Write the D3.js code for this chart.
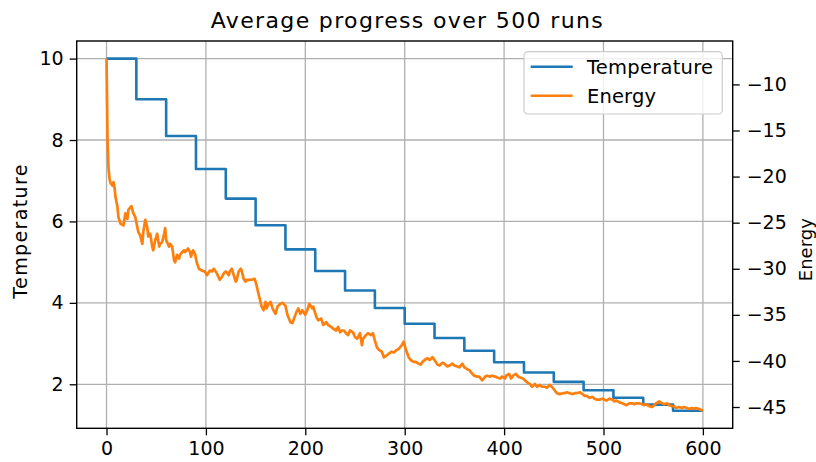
<!DOCTYPE html>
<html>
<head>
<meta charset="utf-8">
<script src="https://cdn.jsdelivr.net/npm/d3@7"></script>
<style>
  html, body { margin: 0; padding: 0; background: #fff; }
  svg { display: block; font-family: "DejaVu Sans", sans-serif; }
</style>
</head>
<body>
<svg id="chart" width="816" height="462"></svg>
<script>
// Annealing schedule: temperature held for 30 steps, then cooled.
const tempStepStarts = [0, 30, 60, 90, 120, 150, 180, 210, 240, 270, 300, 330, 360, 390, 420, 450, 480, 510, 540, 570];
const temperature = [10, 9, 8.1, 7.29, 6.561, 5.905, 5.314, 4.783, 4.305, 3.874, 3.487, 3.138, 2.824, 2.542, 2.288, 2.059, 1.853, 1.668, 1.501, 1.351];
const lastStep = 600;

// Mean energy per step: [step, energy]
const energyReadings = [
  [0,-7.2],[1,-16.0],[2,-19.1],[3,-20.2],[4,-20.7],[6,-21.0],[7,-20.6],[8,-21.1],[9,-22.2],[11,-23.3],
  [12,-24.4],[14,-25.1],[17,-25.3],[19,-24.0],[21,-24.6],[22,-23.6],[25,-23.2],[27,-24.0],[29,-24.4],[31,-25.5],
  [32,-26.0],[34,-26.4],[36,-27.3],[37,-26.0],[39,-24.7],[41,-25.5],[42,-26.5],[44,-26.2],[46,-27.6],[47,-28.0],
  [49,-26.9],[51,-26.2],[53,-27.6],[54,-27.3],[56,-27.1],[58,-26.2],[59,-25.6],[60,-26.9],[63,-27.6],[64,-27.3],
  [66,-27.6],[68,-29.1],[69,-29.3],[71,-28.5],[73,-28.9],[74,-28.5],[76,-28.2],[78,-28.0],[79,-28.2],[82,-27.8],
  [84,-28.2],[85,-28.7],[87,-28.0],[89,-28.4],[91,-29.4],[93,-30.0],[96,-30.2],[99,-30.3],[101,-30.7],[104,-30.2],
  [106,-30.3],[108,-30.0],[111,-30.5],[114,-31.2],[116,-30.9],[118,-30.5],[120,-30.3],[123,-30.7],[124,-30.3],[126,-30.0],
  [128,-30.7],[130,-31.4],[131,-31.2],[133,-30.3],[135,-30.0],[136,-30.2],[138,-31.1],[140,-31.4],[141,-31.2],[144,-31.2],
  [146,-31.2],[149,-31.1],[151,-31.8],[152,-32.3],[154,-33.2],[156,-34.1],[158,-34.5],[160,-33.6],[161,-34.3],[163,-33.8],
  [165,-33.6],[167,-34.3],[170,-34.9],[172,-34.1],[175,-33.8],[177,-33.7],[180,-34.0],[182,-35.0],[185,-35.8],[187,-35.9],
  [190,-35.0],[191,-34.7],[193,-34.3],[195,-34.9],[197,-34.5],[200,-35.0],[202,-34.5],[204,-33.8],[207,-34.3],[208,-34.1],
  [211,-35.2],[213,-35.6],[216,-35.4],[218,-36.1],[221,-35.8],[223,-36.1],[226,-36.3],[228,-36.5],[231,-36.7],[233,-36.3],
  [235,-36.9],[237,-36.7],[239,-36.7],[241,-37.0],[243,-37.2],[245,-36.7],[248,-36.9],[250,-37.4],[252,-37.6],[255,-37.0],
  [257,-38.3],[258,-37.6],[261,-37.2],[263,-37.0],[266,-37.2],[268,-37.0],[270,-37.8],[272,-38.5],[274,-38.8],[277,-39.0],
  [279,-39.6],[282,-39.4],[284,-39.2],[287,-39.0],[289,-39.1],[292,-38.8],[294,-38.7],[297,-38.3],[299,-37.9],[301,-38.7],
  [304,-39.6],[306,-39.9],[309,-40.1],[311,-40.1],[314,-40.3],[316,-40.4],[318,-40.1],[320,-39.9],[323,-39.7],[325,-39.9],
  [328,-39.6],[330,-39.9],[333,-40.4],[335,-40.5],[338,-40.2],[340,-40.3],[343,-40.6],[345,-40.5],[348,-40.3],[350,-40.5],
  [353,-40.6],[355,-40.7],[358,-40.3],[360,-40.7],[363,-40.9],[365,-41.0],[368,-41.4],[370,-41.6],[373,-41.7],[375,-41.7],
  [378,-42.1],[381,-41.7],[383,-41.6],[386,-41.7],[388,-41.6],[391,-41.7],[393,-41.8],[396,-41.9],[398,-41.7],[401,-41.9],
  [402,-41.6],[405,-41.4],[407,-41.9],[409,-41.6],[412,-41.4],[414,-41.7],[416,-41.8],[419,-41.9],[422,-42.2],[424,-42.4],
  [426,-42.5],[428,-42.8],[431,-42.5],[433,-42.8],[436,-42.6],[438,-42.8],[441,-42.8],[443,-42.9],[446,-42.6],[448,-42.8],
  [451,-43.2],[453,-43.5],[456,-43.6],[459,-43.5],[461,-43.5],[463,-43.4],[466,-43.5],[469,-43.6],[471,-43.5],[473,-43.5],
  [476,-43.4],[479,-43.6],[481,-43.8],[483,-43.8],[486,-44.0],[489,-43.9],[491,-44.1],[493,-44.2],[496,-44.2],[499,-44.1],
  [501,-44.2],[503,-44.3],[506,-44.1],[509,-44.2],[511,-44.4],[513,-44.3],[516,-44.5],[519,-44.6],[521,-44.7],[523,-44.8],
  [526,-44.6],[529,-44.6],[531,-44.7],[533,-44.6],[536,-44.6],[539,-44.7],[541,-44.8],[543,-44.7],[546,-44.9],[549,-45.0],
  [551,-44.8],[553,-44.6],[556,-44.4],[559,-44.6],[561,-44.7],[564,-44.6],[566,-44.8],[569,-44.9],[571,-44.9],[573,-45.1],
  [576,-45.0],[579,-45.1],[581,-45.0],[584,-45.1],[586,-45.2],[589,-45.1],[591,-45.2],[593,-45.1],[596,-45.2],[598,-45.3],
  [600,-45.4]
];

const xTicks = [0, 100, 200, 300, 400, 500, 600];
const tempTicks = [2, 4, 6, 8, 10];
const energyTicks = [-10, -15, -20, -25, -30, -35, -40, -45];

const titleText = "Average progress over 500 runs";
const seriesNames = ["Temperature", "Energy"];
const seriesColors = ["#1f77b4", "#ff7f0e"];

// ---- layout ----
const W = 816, H = 462;
const margin = { top: 41, right: 83.3, bottom: 33.7, left: 76.7 };
const plotW = W - margin.left - margin.right;
const plotH = H - margin.top - margin.bottom;

function padded(lo, hi) {
  const p = (hi - lo) * 0.05;
  return [lo - p, hi + p];
}

const x = d3.scaleLinear().domain(padded(0, lastStep)).range([0, plotW]);
const yT = d3.scaleLinear().domain(padded(d3.min(temperature), d3.max(temperature))).range([plotH, 0]);
const eExt = d3.extent(energyReadings, d => d[1]);
const yE = d3.scaleLinear().domain(padded(eExt[0], eExt[1])).range([plotH, 0]);

const svg = d3.select("#chart");
const g = svg.append("g").attr("transform", `translate(${margin.left},${margin.top})`);

const fontSize = 19;
const minusFmt = v => (v < 0 ? "\u2212" + Math.abs(v) : String(v));

// grid
const grid = g.append("g").attr("stroke", "#b0b0b0").attr("stroke-width", 1.3);
grid.selectAll("line.vx").data(xTicks).join("line")
  .attr("x1", d => x(d)).attr("x2", d => x(d)).attr("y1", 0).attr("y2", plotH);
grid.selectAll("line.hy").data(tempTicks).join("line")
  .attr("y1", d => yT(d)).attr("y2", d => yT(d)).attr("x1", 0).attr("x2", plotW);

// temperature step line
const tempPts = tempStepStarts.map((s, i) => [s, temperature[i]]);
tempPts.push([lastStep, temperature[temperature.length - 1]]);
g.append("path")
  .datum(tempPts)
  .attr("fill", "none")
  .attr("stroke", seriesColors[0])
  .attr("stroke-width", 2.6)
  .attr("stroke-linejoin", "round")
  .attr("d", d3.line().curve(d3.curveStepAfter).x(d => x(d[0])).y(d => yT(d[1])));

// energy line
g.append("path")
  .datum(energyReadings)
  .attr("fill", "none")
  .attr("stroke", seriesColors[1])
  .attr("stroke-width", 2.7)
  .attr("stroke-linejoin", "round")
  .attr("d", d3.line().x(d => x(d[0])).y(d => yE(d[1])));

// axes
function styleAxis(sel) {
  sel.select(".domain").remove();
  sel.selectAll(".tick line").attr("stroke", "#000").attr("stroke-width", 1.3);
  sel.selectAll(".tick text").attr("fill", "#000").style("font-size", fontSize + "px")
    .style("font-family", "DejaVu Sans");
}

g.append("g").attr("transform", `translate(0,${plotH})`)
  .call(d3.axisBottom(x).tickValues(xTicks).tickSize(7).tickPadding(6))
  .call(styleAxis);

g.append("g")
  .call(d3.axisLeft(yT).tickValues(tempTicks).tickSize(7).tickPadding(6))
  .call(styleAxis);

g.append("g").attr("transform", `translate(${plotW},0)`)
  .call(d3.axisRight(yE).tickValues(energyTicks).tickFormat(minusFmt).tickSize(7).tickPadding(7))
  .call(styleAxis);

// frame
g.append("rect").attr("x", 0).attr("y", 0).attr("width", plotW).attr("height", plotH)
  .attr("fill", "none").attr("stroke", "#000").attr("stroke-width", 1.4);

// title and axis labels
svg.append("text")
  .attr("x", margin.left + plotW / 2 + 2).attr("y", 27.5)
  .attr("text-anchor", "middle")
  .attr("textLength", 392).attr("lengthAdjust", "spacing")
  .style("font-size", "22px").attr("fill", "#000")
  .text(titleText);

svg.append("text")
  .attr("transform", `translate(27,${margin.top + plotH / 2 - 3}) rotate(-90)`)
  .attr("text-anchor", "middle")
  .attr("textLength", 134).attr("lengthAdjust", "spacing")
  .style("font-size", fontSize + "px").attr("fill", "#000")
  .text(seriesNames[0]);

svg.append("text")
  .attr("transform", `translate(812,${margin.top + plotH / 2 + 15}) rotate(-90)`)
  .attr("text-anchor", "middle")
  .style("font-size", "18px").attr("fill", "#000")
  .text(seriesNames[1]);

// legend
const lg = svg.append("g").attr("transform", "translate(524,51.7)");
lg.append("rect").attr("width", 198.3).attr("height", 62.3).attr("rx", 4).attr("ry", 4)
  .attr("fill", "#fff").attr("fill-opacity", 0.8)
  .attr("stroke", "#cccccc").attr("stroke-width", 1.2);
seriesNames.forEach((name, i) => {
  const yy = 15 + i * 29;
  lg.append("line").attr("x1", 6.7).attr("x2", 48.7).attr("y1", yy).attr("y2", yy)
    .attr("stroke", seriesColors[i]).attr("stroke-width", 2.6);
  lg.append("text").attr("x", 63).attr("y", yy).attr("dy", "0.36em")
    .style("font-size", "19.5px").attr("fill", "#000")
    .attr("textLength", i === 0 ? 126 : 69).attr("lengthAdjust", "spacing")
    .text(name);
});
</script>
</body>
</html>
